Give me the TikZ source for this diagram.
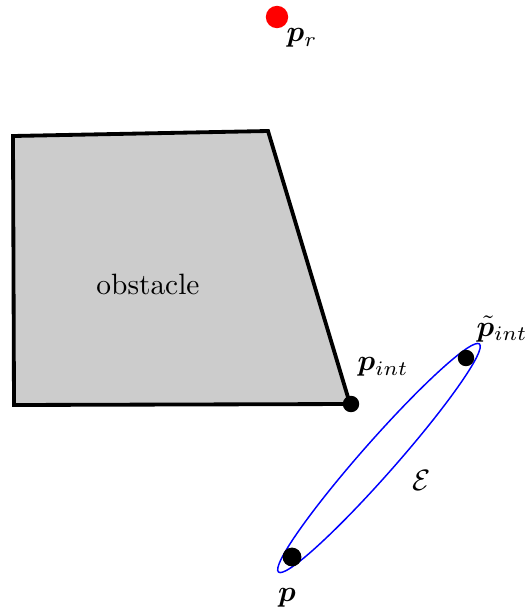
\documentclass[tikz,border=0pt]{standalone}
\usepackage{amsmath,bm}
\begin{document}
\begin{tikzpicture}[x=0.34pt,y=-0.34pt,
  dotblack/.style={circle,fill=black,inner sep=0pt,minimum size=5.6pt},
  lbl/.style={inner sep=0pt}]
\useasboundingbox (0,0) rectangle (527,613);
\draw[line width=1.3pt,fill=black!20,line join=miter] (13,136) -- (268,131) -- (350,404) -- (14,405) -- cycle;
\node[lbl] (obs) at (148,284) {obstacle};
\node[circle,fill=red,inner sep=0pt,minimum size=7.6pt] (pr) at (277,17) {};
\node[lbl] (prl) at (302,38) {$\bm{p}_r$};
\coordinate (c) at (379,458);
\draw[blue,line width=0.5pt,rotate around={48.6:(c)}] (c) ellipse [x radius=152, y radius=17];
\node[dotblack] (pint) at (351,404) {};
\node[lbl] (pintl) at (383,367) {$\bm{p}_{int}$};
\node[dotblack] (pt) at (466,358) {};
\node[lbl] (ptl) at (502,329) {$\tilde{\bm{p}}_{int}$};
\node[dotblack,minimum size=6.4pt] (p) at (292,557) {};
\node[lbl] (pl) at (287,598) {$\bm{p}$};
\node[lbl] (E) at (422,480) {$\mathcal{E}$};
\end{tikzpicture}
\end{document}
